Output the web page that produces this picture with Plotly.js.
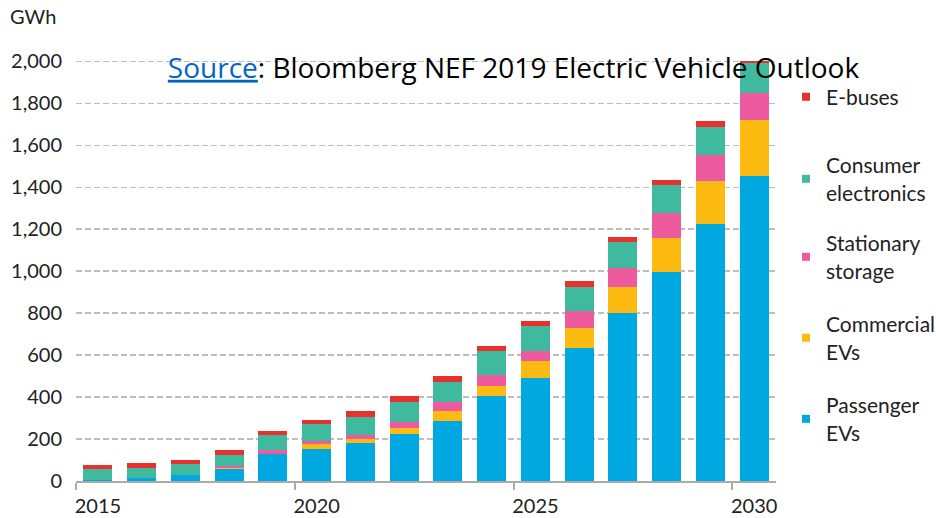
<!DOCTYPE html>
<html>
<head>
<meta charset="utf-8">
<script src="https://cdn.plot.ly/plotly-3.0.1.min.js"></script>
<style>html,body{margin:0;padding:0;background:#fff;}#chart{width:936px;height:518px;}</style>
</head>
<body>
<div id="chart"></div>
<script>
const years = [2015,2016,2017,2018,2019,2020,2021,2022,2023,2024,2025,2026,2027,2028,2029,2030];
const passengerEVs   = [3, 16, 29, 57, 128, 152, 182, 225, 287, 403, 490, 632, 799, 995, 1224, 1454];
const commercialEVs  = [0, 0, 0, 4, 3, 22, 19, 29, 46, 52, 81, 98, 127, 162, 205, 267];
const stationary     = [0, 0, 0, 9, 17, 16, 16, 26, 43, 52, 49, 78, 87, 120, 124, 130];
const consumerElec   = [55, 48, 51, 56, 69, 81, 89, 97, 97, 114, 119, 117, 124, 133, 132, 143];
const eBuses         = [19, 21, 22, 24, 22, 19, 27, 30, 29, 21, 26, 27, 27, 27, 29, 8];
const yTicks = [0,200,400,600,800,1000,1200,1400,1600,1800,2000];
const xTickYears = [2015,2020,2025,2030];

const series = [
  {name:'Passenger<br>EVs', y:passengerEVs, color:'#00A8E1', legend:'legend5', cy:419},
  {name:'Commercial<br>EVs', y:commercialEVs, color:'#FDBB11', legend:'legend4', cy:338},
  {name:'Stationary<br>storage', y:stationary, color:'#EE5A9E', legend:'legend3', cy:257},
  {name:'Consumer<br>electronics', y:consumerElec, color:'#40BA9F', legend:'legend2', cy:179},
  {name:'E-buses', y:eBuses, color:'#E8302C', legend:'legend', cy:97}
];

const traces = [];
series.forEach(s => {
  traces.push({type:'bar', x:years, y:s.y, marker:{color:s.color, line:{width:0}}, showlegend:false, hoverinfo:'x+y'});
});
series.forEach(s => {
  traces.push({type:'scatter', mode:'markers', x:[null], y:[null], name:s.name, legend:s.legend,
    marker:{symbol:'square', size:8, color:s.color}, showlegend:true});
});

const W = 936, H = 518;
const L = 76, R = 160, T = 52.6, B = 37;
const PW = W - L - R, PH = H - T - B;
const layout = {
  width: W, height: H,
  paper_bgcolor:'#fff', plot_bgcolor:'#fff',
  margin:{l:L, r:R, t:T, b:B, autoexpand:false},
  barmode:'stack', bargap:0.336,
  font:{family:'Lato, sans-serif', color:'#222', size:20},
  title:{text:'<span style="color:#0563C1;text-decoration:underline">Source</span>: Bloomberg NEF 2019 Electric Vehicle Outlook',
    font:{family:'Open Sans, sans-serif', size:28, color:'#000'},
    x:513.5/W, xref:'container', xanchor:'center', y:1-68/H, yref:'container', yanchor:'middle'},
  xaxis:{range:[2014.5,2030.5], tickvals:xTickYears, ticktext:xTickYears.map(String),
    ticks:'', showline:true, linecolor:'#ababab', linewidth:2, showgrid:false, zeroline:false,
    tickfont:{size:20, color:'#222'}, ticklabelstandoff:6,
    minor:{tickvals:xTickYears.map(v=>v-0.5), ticks:'outside', ticklen:7, tickwidth:2, tickcolor:'#ababab', showgrid:false}},
  yaxis:{range:[0,2040], tickvals:yTicks, tickformat:',d', showgrid:true, gridcolor:'#bdbdbd', gridwidth:1.5,
    griddash:'6px,3px', zeroline:false, showline:false, ticks:'', tickfont:{size:20, color:'#222'}, ticklabelstandoff:13},
  annotations:[{text:'GWh', xref:'paper', yref:'paper', x:(8-L)/PW, y:(H-B-16)/PH, xanchor:'left', yanchor:'middle',
    showarrow:false, font:{size:20, color:'#222'}}]
};
const legendBase = {xref:'container', yref:'container', xanchor:'left', yanchor:'middle', bgcolor:'rgba(0,0,0,0)',
  font:{size:21, color:'#222'}, itemwidth:30, valign:'middle'};
series.forEach(s => {
  layout[s.legend] = Object.assign({}, legendBase, {x:786/W, y:1-s.cy/H});
});

Plotly.newPlot('chart', traces, layout, {displayModeBar:false, staticPlot:true});
</script>
</body>
</html>
